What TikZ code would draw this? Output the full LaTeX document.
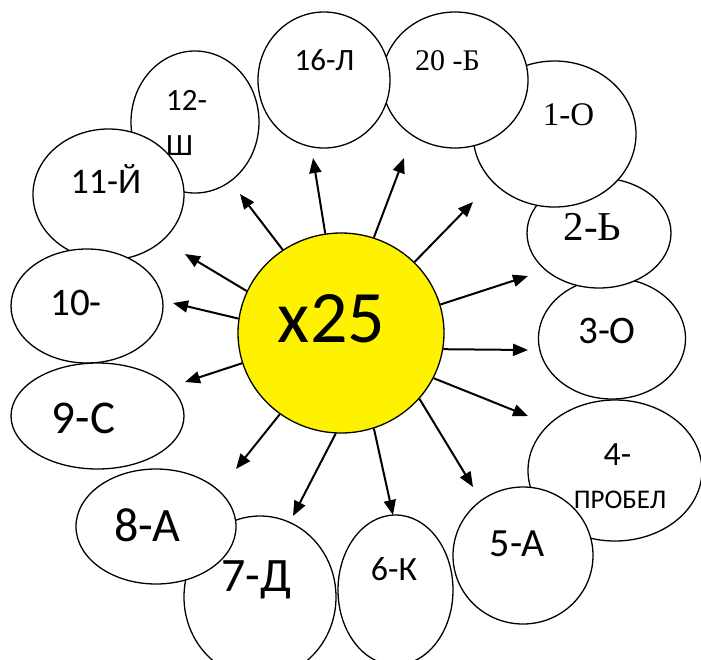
\documentclass[tikz,border=0pt]{standalone}
\usepackage{fontspec}
\setmainfont{Carlito}
\newfontfamily\serifcyr{Liberation Serif}
\usetikzlibrary{arrows.meta,shapes.geometric}

\begin{document}
\begin{tikzpicture}[x=1pt,y=-1pt,>={Triangle[length=15pt,width=12pt]},
                    petal/.style={ellipse,draw,fill=white,line width=1.3pt,inner sep=0pt},
                    word/.style={anchor=base,inner sep=0pt,font=\fontsize{#1pt}{#1pt}\selectfont},
                    rmword/.style={word=#1,font=\serifcyr\fontsize{#1pt}{#1pt}\selectfont},
                    ray/.style={->,line width=2pt}]

  \useasboundingbox (0,0) rectangle (701,659);
  \clip (0,0) rectangle (701,659);

  % petals, back to front
  \node[petal,minimum width=128pt,minimum height=142pt] (p12) at (195,122)   {};
  \node[petal,minimum width=151pt,minimum height=131pt] (p11) at (108.5,194.5) {};
  \node[petal,minimum width=152pt,minimum height=114pt] (p10) at (87,306)    {};
  \node[petal,minimum width=173pt,minimum height=106pt] (p9)  at (97.5,416)  {};
  \node[petal,minimum width=147pt,minimum height=121pt] (p3)  at (612,338.5) {};
  \node[petal,minimum width=144pt,minimum height=110pt] (p2)  at (599,233)   {};
  \node[petal,minimum width=163pt,minimum height=146pt] (p1)  at (554.5,134) {};
  \node[petal,minimum width=146pt,minimum height=136pt] (p20) at (455,80)    {};
  \node[petal,minimum width=132pt,minimum height=136pt] (p16) at (324,80)    {};
  \node[petal,minimum width=174pt,minimum height=141pt] (p4)  at (615,470.5) {};
  \node[petal,minimum width=140pt,minimum height=137pt] (p5)  at (523,555.5) {};
  \node[petal,minimum width=115pt,minimum height=150pt] (p6)  at (395.5,590) {};
  \node[petal,minimum width=152pt,minimum height=162pt] (p7)  at (260,597)   {};
  \node[petal,minimum width=160pt,minimum height=115pt] (p8)  at (156,526.5) {};

  % the sun
  \node[ellipse,draw,fill=yellow,line width=1.3pt,inner sep=0pt,
        minimum width=206pt,minimum height=200pt] (sun) at (341,333) {};

  % arrow tips
  \coordinate (t16) at (313,158);
  \coordinate (t20) at (404,158);
  \coordinate (t1)  at (473,202);
  \coordinate (t2)  at (528,276);
  \coordinate (t3)  at (528,350);
  \coordinate (t4)  at (528,416);
  \coordinate (t5)  at (473,487);
  \coordinate (t6)  at (393,515);
  \coordinate (t7)  at (293,516);
  \coordinate (t8)  at (236,469);
  \coordinate (t9)  at (185,382);
  \coordinate (t10) at (173,303);
  \coordinate (t11) at (185,254);
  \coordinate (t12) at (240,194);

  \foreach \a/\t in {99/t16,71/t20,44/t1,16/t2,-9/t3,-26/t4,-40/t5,
                     -71/t6,-93/t7,-127/t8,-163/t9,172/t10,156/t11,125/t12}
    \draw[ray] (sun.\a) -- (\t);

  % labels
  \node[word=31]   (l16)  at (324.5,70)  {16-Л};
  \node[rmword=30] (l20)  at (447.5,70)  {20 -Б};
  \node[rmword=33] (l1)   at (568.5,125) {1-О};
  \node[rmword=41] (l2)   at (592.5,240) {2-Ь};
  \node[word=39]   (l3)   at (607,343)   {3-О};
  \node[word=34]   (l4)   at (617.5,465) {4-};
  \node[word=27]   (l4b)  at (620,508)   {ПРОБЕЛ};
  \node[word=40]   (l5)   at (517.5,556) {5-А};
  \node[word=34]   (l6)   at (394,580)   {6-К};
  \node[word=48]   (l7)   at (256.5,591) {7-Д};
  \node[word=48]   (l8)   at (147.5,541) {8-А};
  \node[word=47]   (l9)   at (83.5,433)  {9-С};
  \node[word=39]   (l10)  at (76,315)    {10-};
  \node[word=36]   (l11)  at (106,193)   {11-Й};
  \node[word=31,anchor=base west] (l12)  at (166,110) {12-};
  \node[word=31,anchor=base west] (l12b) at (166,155) {Ш};
  \node[word=74]   (lsun) at (331.5,342) {x25};
\end{tikzpicture}
\end{document}
